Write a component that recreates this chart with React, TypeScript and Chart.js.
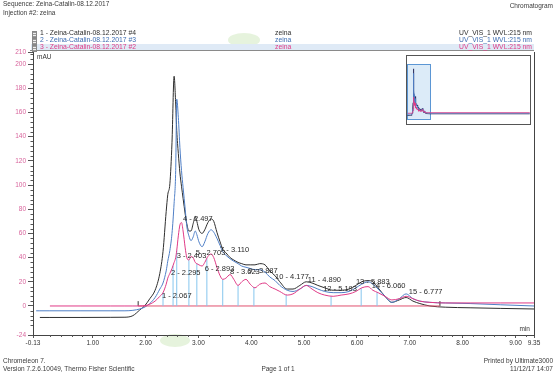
import React, { useEffect, useRef } from "react";
import { Chart, registerables } from "chart.js";

Chart.register(...registerables);

const FONT = "'Liberation Sans', Arial, Helvetica, sans-serif";

// retention time grid (min)
const times = [
  -0.07, 0.0, 0.19, 0.76, 1.33, 1.61, 1.76, 1.89, 1.99, 2.08,
  2.18, 2.27, 2.33, 2.39, 2.42, 2.46, 2.5, 2.54, 2.57, 2.59,
  2.62, 2.65, 2.68, 2.71, 2.75, 2.78, 2.82, 2.86, 2.9, 2.94,
  2.97, 3.01, 3.07, 3.12, 3.18, 3.24, 3.29, 3.35, 3.41, 3.46,
  3.52, 3.6, 3.67, 3.75, 3.82, 3.9, 3.98, 4.07, 4.16, 4.26,
  4.35, 4.45, 4.54, 4.68, 4.79, 4.92, 5.04, 5.15, 5.26, 5.39,
  5.55, 5.7, 5.85, 5.98, 6.09, 6.21, 6.3, 6.4, 6.53, 6.66,
  6.8, 6.93, 7.06, 7.19, 7.38, 7.67, 8.14, 8.71, 9.35,
];

// 1 - Zeina-Catalin-08.12.2017 #4 (black)
const run4 = [
  null, -9.5, -9.5, -9.5, -9.4, -9.3, -8, -3.3, 0.5, 6,
  13, 27, 45, 78, 92, 101, 135, 190, 167, 145,
  126, 110, 99, 89, 76, 68, 62, 62, 68, 74,
  70, 63, 60, 63, 69, 72, 70, 61, 53, 47,
  44, 40, 38, 36, 35, 34, 34, 34, 35, 34,
  29, 25, 20, 14, 14, 17, 20, 19, 17, 15,
  13, 13, 14, 17, 20, 21, 20, 15, 8, 3,
  5, 7, 4, 2, 0, -1, -1.5, -2, -2.5,
];

// 2 - Zeina-Catalin-08.12.2017 #3 (blue)
const run3 = [
  -4, -4, -4, -4, -4, -4, -3.6, -2.5, -0.8, 2,
  7, 14, 19, 29, 37, 46, 60, 85, 112, 171,
  156, 131, 112, 98, 80, 66, 58, 54, 57, 62,
  59, 53, 49, 53, 60, 63, 61, 56, 50, 45,
  42, 39, 37, 35, 33, 32, 31, 30, 30, 28,
  24, 21, 17, 13, 12, 14, 17, 16, 14, 12,
  11, 11, 12, 15, 18, 20, 18, 14, 8, 3,
  6, 10, 6, 4, 3, 2.5, 2, 1, 0,
];

// 3 - Zeina-Catalin-08.12.2017 #2 (pink)
const run2 = [
  null, null, 0, 0, 0, 0, 0, 0, 0.3, 1.5,
  4, 8, 11, 18, 23, 27, 31, 36, 40, 46,
  58, 67, 69, 62, 48, 40, 38, 41, 40, 36,
  35, 34, 33, 36, 41, 43, 40, 32, 25, 22,
  23, 26, 22, 17, 20, 22, 18, 15, 18, 19,
  16, 14, 12, 9, 10, 14, 17, 14, 11, 9,
  8, 9, 10, 12, 15, 16, 13, 11, 8, 5,
  6, 8, 6, 4, 3, 2.5, 2.5, 2.5, 2.5,
];

const xTickValues = [-0.13, 1, 2, 3, 4, 5, 6, 7, 8, 9, 9.35];
const yTickValues = [-24, 0, 20, 40, 60, 80, 100, 120, 140, 160, 180, 200, 210];

const peakNames = [
  "1 - 2.067", "2 - 2.295", "3 - 2.403", "4 - 2.497", "5 - 2.703",
  "6 - 2.893", "7 - 3.110", "8 - 3.623", "9 - 3.887", "10 - 4.177",
  "11 - 4.890", "12 - 5.193", "13 - 5.883", "14 - 6.060", "15 - 6.777",
];
const peakLabelTimes = [2.31, 2.48, 2.59, 2.71, 2.95, 3.12, 3.41, 3.6, 3.94, 4.45, 5.07, 5.36, 5.98, 6.28, 6.98];
const peakLabelHeights = [8.3, 27.3, 41.3, 71.9, 43.8, 30.6, 46.3, 28.1, 28.9, 24.0, 21.5, 14.1, 19.8, 16.5, 11.6];

const dropLineTimes = [2.33, 2.52, 2.59, 2.82, 2.97, 3.16, 3.46, 3.75, 4.05, 4.66, 5.51, 6.08, 6.38];
const baselineTimes = [1.86, 7.57];

const legendNames = [
  "1 - Zeina-Catalin-08.12.2017 #4",
  "2 - Zeina-Catalin-08.12.2017 #3",
  "3 - Zeina-Catalin-08.12.2017 #2",
];
const legendSample = "zeina";
const legendChannel = "UV_VIS_1 WVL:215 nm";

const C_BLACK = "#2e2e2e";
const C_BLUE = "#4f7fc6";
const C_PINK = "#e03a86";
const C_DROP = "#86c6ee";
const C_YLAB = "#d8649c";

function pts(vals: (number | null)[]) {
  return times
    .map((t, i) => ({ x: t, y: vals[i] }))
    .filter((p) => p.y !== null);
}

function interp(vals: (number | null)[], t: number) {
  for (let i = 0; i < times.length - 1; i++) {
    const a = vals[i], b = vals[i + 1];
    if (a === null || b === null) continue;
    if (t >= times[i] && t <= times[i + 1]) {
      const f = (t - times[i]) / (times[i + 1] - times[i]);
      return a + (b - a) * f;
    }
  }
  return 0;
}

const peakLabelPlugin = {
  id: "peakLabels",
  afterDatasetsDraw(chart: any) {
    const { ctx, scales } = chart;
    const x = scales.x, y = scales.y;
    ctx.save();
    ctx.font = `7.5px ${FONT}`;
    ctx.fillStyle = "#2a2a2a";
    ctx.textAlign = "left";
    ctx.textBaseline = "middle";
    peakNames.forEach((n, i) => {
      ctx.fillText(n, x.getPixelForValue(peakLabelTimes[i]), y.getPixelForValue(peakLabelHeights[i]));
    });
    ctx.restore();
  },
};

const frameTicksPlugin = {
  id: "frameTicks",
  afterDraw(chart: any) {
    const { ctx, chartArea, scales } = chart;
    const x = scales.x, y = scales.y;
    ctx.save();
    ctx.strokeStyle = "#555";
    ctx.lineWidth = 1;
    ctx.beginPath();
    for (let i = 1; i <= 46; i++) {
      if (i % 5 === 0) continue;
      const t = i * 0.2;
      const px = Math.round(x.getPixelForValue(t)) + 0.5;
      ctx.moveTo(px, chartArea.bottom);
      ctx.lineTo(px, chartArea.bottom + 2);
    }
    for (let v = -20; v < 210; v += 4) {
      if (v % 20 === 0) continue;
      const py = Math.round(y.getPixelForValue(v)) + 0.5;
      ctx.moveTo(chartArea.left - 2.5, py);
      ctx.lineTo(chartArea.left, py);
    }
    ctx.stroke();
    ctx.strokeStyle = "#444";
    ctx.beginPath();
    ctx.moveTo(Math.round(chartArea.right) + 0.5, chartArea.top);
    ctx.lineTo(Math.round(chartArea.right) + 0.5, chartArea.bottom);
    ctx.stroke();
    ctx.restore();
  },
};

const insetHighlightPlugin = {
  id: "insetHighlight",
  beforeDatasetsDraw(chart: any) {
    const { ctx, scales } = chart;
    const x = scales.x, y = scales.y;
    const l = x.getPixelForValue(-0.13), r = x.getPixelForValue(9.35);
    const t = y.getPixelForValue(210), b = y.getPixelForValue(-24);
    ctx.save();
    ctx.fillStyle = "#dcebf8";
    ctx.fillRect(l, t, r - l, b - t);
    ctx.strokeStyle = "#5b96d4";
    ctx.lineWidth = 1;
    ctx.strokeRect(Math.round(l) + 0.5, Math.round(t) + 0.5, Math.round(r - l), Math.round(b - t));
    ctx.restore();
  },
};

function T(props: { x: number; y: number; s: string; c?: string; size?: number; align?: string }) {
  const { x, y, s, c = "#3a3a3a", size = 6.5, align = "left" } = props;
  const style: any = {
    position: "absolute",
    top: y - 5,
    height: 10,
    lineHeight: "10px",
    fontSize: size,
    color: c,
    whiteSpace: "nowrap",
    fontFamily: FONT,
  };
  if (align === "left") style.left = x;
  else if (align === "right") style.right = 559 - x;
  else {
    style.left = x;
    style.transform = "translateX(-50%)";
  }
  return <div style={style}>{s}</div>;
}

export default function App() {
  const mainRef = useRef<HTMLCanvasElement>(null);
  const insetRef = useRef<HTMLCanvasElement>(null);

  useEffect(() => {
    const dropData: any[] = [];
    dropLineTimes.forEach((t) => {
      dropData.push({ x: t, y: 0 }, { x: t, y: interp(run2, t) }, { x: t, y: null });
    });
    const markerData: any[] = [];
    baselineTimes.forEach((t) => {
      markerData.push({ x: t, y: 0 }, { x: t, y: 4 }, { x: t, y: null });
    });

    const lineDs = (label: string, data: any[], color: string, w = 1) => ({
      label,
      data,
      borderColor: color,
      backgroundColor: color,
      borderWidth: w,
      pointRadius: 0,
      fill: false,
      cubicInterpolationMode: "monotone" as const,
    });

    const main = new Chart(mainRef.current!, {
      type: "line",
      data: {
        datasets: [
          lineDs(legendNames[2], pts(run2), C_PINK),
          {
            label: "drop",
            data: dropData,
            borderColor: C_DROP,
            borderWidth: 1,
            pointRadius: 0,
            spanGaps: false,
          },
          {
            label: "baseline",
            data: baselineTimes.map((t) => ({ x: t, y: 0 })),
            borderColor: "#e0506e",
            borderWidth: 1,
            pointRadius: 0,
          },
          {
            label: "markers",
            data: markerData,
            borderColor: "#333",
            borderWidth: 1,
            pointRadius: 0,
            spanGaps: false,
          },
          lineDs(legendNames[1], pts(run3), C_BLUE),
          lineDs(legendNames[0], pts(run4), C_BLACK),
        ],
      },
      options: {
        animation: false,
        responsive: false,
        devicePixelRatio: 1,
        parsing: false as any,
        normalized: true,
        layout: { padding: { left: 0, top: 52, right: 25, bottom: 28 } },
        plugins: { legend: { display: false }, tooltip: { enabled: false } },
        scales: {
          x: {
            type: "linear",
            min: -0.13,
            max: 9.35,
            afterBuildTicks: (s: any) => {
              s.ticks = xTickValues.map((v) => ({ value: v }));
            },
            afterFit: (s: any) => {
              s.height = 14;
            },
            ticks: {
              autoSkip: false,
              maxRotation: 0,
              padding: 1,
              color: "#333",
              font: { size: 6.5, family: FONT },
              callback: (v: any) => Number(v).toFixed(2),
            },
            grid: { drawOnChartArea: false, drawTicks: true, tickLength: 3, color: "#555" },
            border: { display: true, color: "#444", width: 1 },
          },
          y: {
            type: "linear",
            min: -24,
            max: 210,
            afterBuildTicks: (s: any) => {
              s.ticks = yTickValues.map((v) => ({ value: v }));
            },
            afterFit: (s: any) => {
              s.width = 33;
            },
            ticks: {
              autoSkip: false,
              padding: 2,
              color: C_YLAB,
              font: { size: 6.5, family: FONT },
              callback: (v: any) => String(v),
            },
            grid: { drawOnChartArea: false, drawTicks: true, tickLength: 5, color: "#555" },
            border: { display: true, color: "#444", width: 1 },
          },
        },
      },
      plugins: [peakLabelPlugin, frameTicksPlugin],
    });

    const ext = (vals: (number | null)[]) => {
      const p = pts(vals);
      p.push({ x: 50, y: vals[vals.length - 1] });
      return p;
    };
    const miniDs = (data: any[], color: string) => ({
      data,
      borderColor: color,
      borderWidth: 0.8,
      pointRadius: 0,
      fill: false,
    });
    const inset = new Chart(insetRef.current!, {
      type: "line",
      data: {
        datasets: [miniDs(ext(run2), C_PINK), miniDs(ext(run3), C_BLUE), miniDs(ext(run4), "#2b2b5a")],
      },
      options: {
        animation: false,
        responsive: false,
        devicePixelRatio: 1,
        parsing: false as any,
        layout: { padding: 0 },
        plugins: { legend: { display: false }, tooltip: { enabled: false } },
        scales: {
          x: { type: "linear", min: -0.13, max: 50.1, display: false },
          y: { type: "linear", min: -46, max: 245, display: false },
        },
      },
      plugins: [insetHighlightPlugin],
    });

    return () => {
      main.destroy();
      inset.destroy();
    };
  }, []);

  return (
    <div
      style={{
        position: "absolute",
        left: 0,
        top: 0,
        width: 559,
        height: 377,
        background: "#fff",
        overflow: "hidden",
        fontFamily: FONT,
      }}
    >
      {/* faint scan watermarks */}
      <div style={{ position: "absolute", left: 228, top: 33, width: 32, height: 14, borderRadius: "50%", background: "rgba(200,228,180,0.45)" }} />
      <div style={{ position: "absolute", left: 160, top: 334, width: 30, height: 13, borderRadius: "50%", background: "rgba(200,228,180,0.45)" }} />

      {/* legend highlight band */}
      <div style={{ position: "absolute", left: 31, top: 44, width: 503, height: 6, background: "#dfeaf6" }} />
      <div style={{ position: "absolute", left: 30, top: 50, width: 504, height: 1, background: "#8a8a8a" }} />

      <canvas
        ref={mainRef}
        width={559}
        height={377}
        style={{ position: "absolute", left: 0, top: 0, width: 559, height: 377 }}
      />

      {/* inset overview */}
      <div
        style={{
          position: "absolute",
          left: 406,
          top: 55,
          width: 123,
          height: 68,
          border: "1px solid #555",
          background: "#fff",
        }}
      >
        <canvas ref={insetRef} width={123} height={68} style={{ display: "block", width: 123, height: 68 }} />
      </div>

      <T x={3} y={4} s="Sequence: Zeina-Catalin-08.12.2017" />
      <T x={3} y={13} s="Injection #2: zeina" />
      <T x={553} y={6} s="Chromatogram" align="right" />

      {legendNames.map((n, i) => {
        const col = [C_BLACK, "#3c6db2", C_PINK][i];
        const y = [33, 40, 47][i];
        return (
          <React.Fragment key={n}>
            <div
              style={{
                position: "absolute",
                left: 32,
                top: y - 2.5,
                width: 3,
                height: 5,
                border: "0.5px solid #888",
                background: "repeating-linear-gradient(#999 0 1px, #eee 1px 2px)",
              }}
            />
            <T x={40} y={y} s={n} c={col} size={6.8} />
            <T x={275} y={y} s={legendSample} c={col} size={6.8} />
            <T x={532} y={y} s={legendChannel} c={col} size={6.8} align="right" />
          </React.Fragment>
        );
      })}

      <T x={37} y={57} s="mAU" c="#333" />
      <T x={530} y={329} s="min" c="#333" align="right" />

      <T x={3} y={361} s="Chromeleon 7." />
      <T x={3} y={369} s="Version 7.2.6.10049, Thermo Fisher Scientific" />
      <T x={278} y={369} s="Page 1 of 1" align="center" />
      <T x={553} y={361} s="Printed by Ultimate3000" align="right" />
      <T x={553} y={369} s="11/12/17 14:07" align="right" />
    </div>
  );
}
